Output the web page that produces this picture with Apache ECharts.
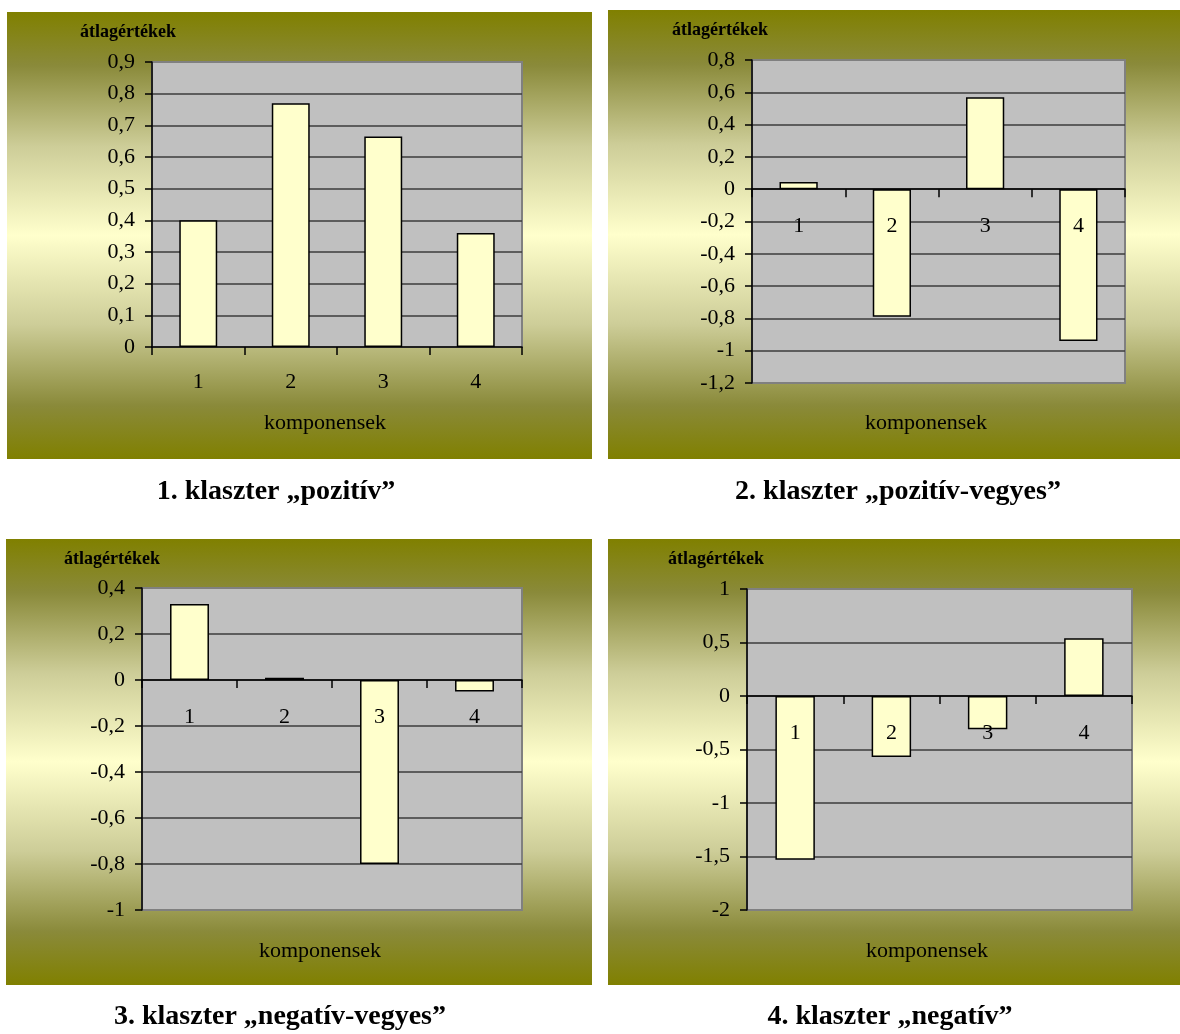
<!DOCTYPE html>
<html>
<head>
<meta charset="utf-8">
<title>Klaszterek átlagértékei</title>
<script src="https://cdn.jsdelivr.net/npm/echarts@6/dist/echarts.min.js"></script>
<style>
  html, body { margin: 0; padding: 0; background: #ffffff; }
  #chart { width: 1180px; height: 1034px; }
</style>
</head>
<body>
<div id="chart"></div>
<script>
// Component means per cluster
const categories = ['1', '2', '3', '4'];
const cluster1 = [0.40, 0.77, 0.665, 0.36];
const cluster2 = [0.045, -0.79, 0.57, -0.94];
const cluster3 = [0.33, 0.01, -0.80, -0.05];
const cluster4 = [-1.53, -0.57, -0.31, 0.54];

// Value-axis ranges: [min, max, step]
const axis1 = [0, 0.9, 0.1];
const axis2 = [-1.2, 0.8, 0.2];
const axis3 = [-1, 0.4, 0.2];
const axis4 = [-2, 1, 0.5];

const captions = [
  '1. klaszter \u201Epozitív\u201D',
  '2. klaszter \u201Epozitív-vegyes\u201D',
  '3. klaszter \u201Enegatív-vegyes\u201D',
  '4. klaszter \u201Enegatív\u201D'
];
const yTitle = 'átlagértékek';
const xTitle = 'komponensek';

const SERIF = '"Liberation Serif", "Times New Roman", "DejaVu Serif", serif';

// Panel layout: background box, plot grid, text anchors
const panels = [
  { bg: [7, 12, 585, 447],   grid: [152, 62, 370, 285],  yt: [80, 32],   xt: [325, 423], cap: [276, 492] },
  { bg: [608, 10, 572, 449], grid: [752, 60, 373, 323],  yt: [672, 30],  xt: [926, 423], cap: [898, 492] },
  { bg: [6, 539, 586, 446],  grid: [142, 588, 380, 322], yt: [64, 559],  xt: [320, 951], cap: [280, 1017] },
  { bg: [608, 539, 572, 446], grid: [747, 589, 385, 321], yt: [668, 559], xt: [927, 951], cap: [890, 1017] }
];
const seriesData = [cluster1, cluster2, cluster3, cluster4];
const axes = [axis1, axis2, axis3, axis4];

function fmt(v) {
  return String(Number(v.toFixed(2))).replace('.', ',');
}

const bgGradient = {
  type: 'linear', x: 0, y: 0, x2: 0, y2: 1,
  colorStops: [
    { offset: 0, color: '#808000' },
    { offset: 0.12, color: '#8a8a3a' },
    { offset: 0.3, color: '#cdcd98' },
    { offset: 0.5, color: '#ffffcc' },
    { offset: 0.7, color: '#cdcd98' },
    { offset: 0.88, color: '#8a8a3a' },
    { offset: 1, color: '#808000' }
  ]
};

const graphics = [];
const grids = [], xAxes = [], yAxes = [], series = [];

panels.forEach((p, i) => {
  graphics.push({
    type: 'rect', z: -10,
    shape: { x: p.bg[0], y: p.bg[1], width: p.bg[2], height: p.bg[3] },
    style: { fill: bgGradient }
  });
  graphics.push({
    type: 'text', z: 10, x: p.yt[0], y: p.yt[1],
    style: { text: yTitle, font: 'bold 18px ' + SERIF, fill: '#000', textVerticalAlign: 'middle' }
  });
  graphics.push({
    type: 'text', z: 10, x: p.xt[0], y: p.xt[1],
    style: { text: xTitle, font: '22px ' + SERIF, fill: '#000', textAlign: 'center', textVerticalAlign: 'middle' }
  });
  graphics.push({
    type: 'text', z: 10, x: p.cap[0], y: p.cap[1],
    style: { text: captions[i], font: 'bold 28px ' + SERIF, fill: '#000', textAlign: 'center', textVerticalAlign: 'middle' }
  });

  grids.push({
    left: p.grid[0], top: p.grid[1], width: p.grid[2], height: p.grid[3],
    show: true, backgroundColor: '#c0c0c0', borderColor: '#808080', borderWidth: 2,
    containLabel: false
  });

  const a = axes[i];
  // category axis sits on the zero line of the value axis
  const zeroShift = p.grid[3] * (0 - a[0]) / (a[1] - a[0]);

  xAxes.push({
    type: 'category', gridIndex: i, data: categories, z: 5,
    position: 'bottom', offset: -zeroShift,
    axisLine: { show: true, onZero: false, lineStyle: { color: '#000', width: 1.5 } },
    axisTick: { show: true, inside: false, length: 8, alignWithLabel: false, lineStyle: { color: '#000', width: 1.5 } },
    axisLabel: { color: '#000', fontFamily: SERIF, fontSize: 22, margin: i === 0 ? 24 : 26 },
    splitLine: { show: false }
  });

  yAxes.push({
    type: 'value', gridIndex: i, min: a[0], max: a[1], interval: a[2],
    axisLine: { show: true, lineStyle: { color: '#000', width: 1.5 } },
    axisTick: { show: true, inside: false, length: 7, lineStyle: { color: '#000', width: 1.5 } },
    axisLabel: { color: '#000', fontFamily: SERIF, fontSize: 22, margin: 17, formatter: fmt },
    splitLine: { show: true, showMinLine: false, showMaxLine: false, lineStyle: { color: '#3c3c3c', width: 1.5 } }
  });

  series.push({
    type: 'bar', xAxisIndex: i, yAxisIndex: i, data: seriesData[i],
    barWidth: '41%',
    itemStyle: { color: '#ffffcc', borderColor: '#000', borderWidth: 1.5 },
    animation: false
  });
});

const chart = echarts.init(document.getElementById('chart'), null, { renderer: 'canvas' });
chart.setOption({
  backgroundColor: '#ffffff',
  animation: false,
  graphic: { elements: graphics },
  grid: grids,
  xAxis: xAxes,
  yAxis: yAxes,
  series: series
});
</script>
</body>
</html>
